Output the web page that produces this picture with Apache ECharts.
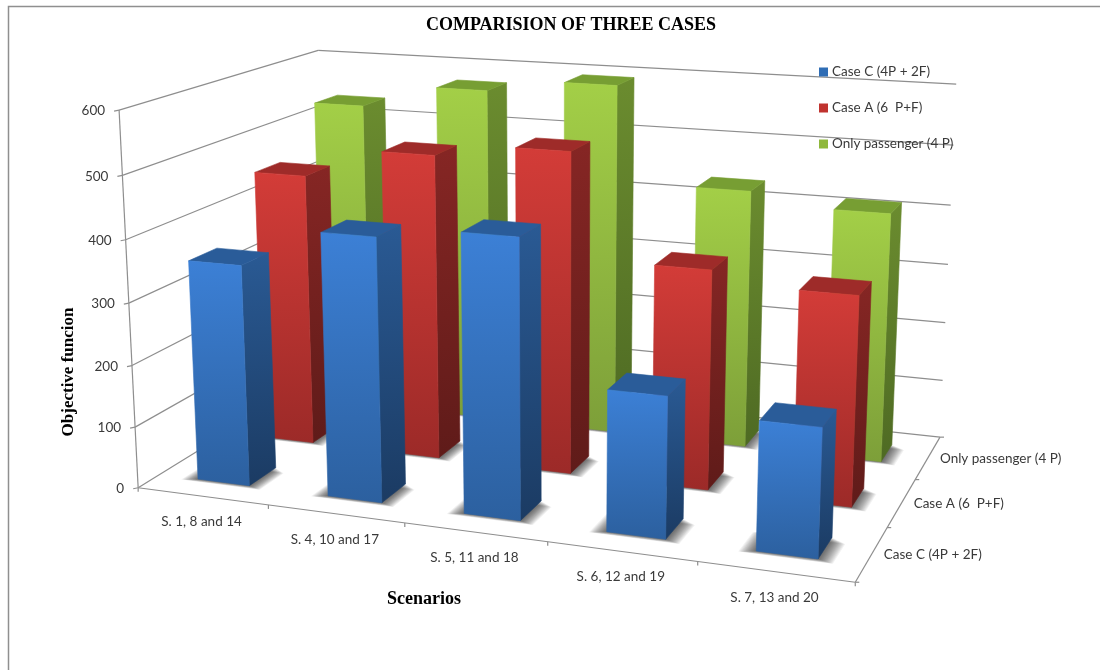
<!DOCTYPE html>
<html>
<head>
<meta charset="utf-8">
<title>Comparision of three cases</title>
<script src="https://cdn.jsdelivr.net/npm/echarts@6/dist/echarts.min.js"></script>
<style>html,body{margin:0;padding:0;background:#fff}#chart{width:1100px;height:670px}</style>
</head>
<body>
<div id="chart"></div>
<script>
// Chart content
const chartTitle = 'COMPARISION OF THREE CASES';
const valueAxisTitle = 'Objective funcion';
const categoryAxisTitle = 'Scenarios';
const categories = ['S. 1, 8 and 14', 'S. 4, 10 and 17', 'S. 5, 11 and 18', 'S. 6, 12 and 19', 'S. 7, 13 and 20'];
const valueTicks = [0, 100, 200, 300, 400, 500, 600];
const caseNames = ['Case C (4P + 2F)', 'Case A (6  P+F)', 'Only passenger (4 P)'];
const caseC = [357, 420, 438, 220, 198];
const caseA = [454, 503, 524, 355, 335];
const onlyPassenger = [533, 572, 593, 433, 413];

// Shading per case: top face, front gradient, side gradient
const palettes = [
  { legend: '#2f6db5', top: '#2a5c99', front: ['#3c80d6', '#2c609f'], side: ['#2a5a94', '#1b3b63'] },
  { legend: '#c0332f', top: '#9e2b29', front: ['#d33c38', '#9c2a28'], side: ['#862624', '#5f1b19'] },
  { legend: '#8fb83c', top: '#779e33', front: ['#a3cf47', '#7d9f39'], side: ['#6b8c2f', '#4e6a23'] }
];

// Camera calibration of the 3D box: [x units, hundreds, depth units] -> page pixels
const cameraAnchors = [
  [0,0,0,138,487],[1,0,0,269,506],[2,0,0,404,523],[3,0,0,547,543],[4,0,0,697,562],[5,0,0,855,581],
  [5,0,1,888,527],[5,0,2,917,479],[5,0,3,940,437],
  [0,1,0,135,427],[0,4,0,127,240],[0,5,0,123,175],[0,6,0,118,110],
  [5,6,3,957,84],[5,4,3,950,206],[5,2,3,944,323],[0,6,3,318,50]
];

function solveCamera(anchors) {
  const n = 11, A = Array.from({length: n}, () => new Array(n + 1).fill(0));
  const addRow = (r, b) => {
    for (let i = 0; i < n; i++) {
      for (let j = 0; j < n; j++) A[i][j] += r[i] * r[j];
      A[i][n] += r[i] * b;
    }
  };
  anchors.forEach(([X, Y, Z, sx, sy]) => {
    const u = sx / 1000, v = sy / 1000;
    addRow([X, Y, Z, 1, 0, 0, 0, 0, -u * X, -u * Y, -u * Z], u);
    addRow([0, 0, 0, 0, X, Y, Z, 1, -v * X, -v * Y, -v * Z], v);
  });
  for (let c = 0; c < n; c++) {
    let best = c;
    for (let r = c + 1; r < n; r++) if (Math.abs(A[r][c]) > Math.abs(A[best][c])) best = r;
    [A[c], A[best]] = [A[best], A[c]];
    for (let r = 0; r < n; r++) {
      if (r === c) continue;
      const f = A[r][c] / A[c][c];
      for (let k = c; k <= n; k++) A[r][k] -= f * A[c][k];
    }
  }
  return A.map((row, i) => row[n] / row[i]);
}
const cam = solveCamera(cameraAnchors);

// Project a point given in axis values; x and y go through the hidden cartesian axes first
function project(api, coordSys, xVal, yVal, depth) {
  const c = api.coord([xVal, yVal]);
  const X = (c[0] - coordSys.x) / coordSys.width * (categories.length);
  const Y = (coordSys.y + coordSys.height - c[1]) / coordSys.height * 6;
  const w = cam[8] * X + cam[9] * Y + cam[10] * depth + 1;
  return [
    1000 * (cam[0] * X + cam[1] * Y + cam[2] * depth + cam[3]) / w,
    1000 * (cam[4] * X + cam[5] * Y + cam[6] * depth + cam[7]) / w
  ];
}

const axisStroke = { stroke: '#8e8e8e', lineWidth: 1.2, fill: null };
const labelFont = '13.5px Lato, "Open Sans", sans-serif';
const labelColor = '#3a3a3a';
const line = (a, b) => ({ type: 'line', silent: true, shape: { x1: a[0], y1: a[1], x2: b[0], y2: b[1] }, style: axisStroke });
const text = (s, x, y, align, extra) => ({
  type: 'text', silent: true, x, y,
  style: Object.assign({ text: s, font: labelFont, fill: labelColor, align, verticalAlign: 'middle' }, extra || {})
});

// Walls, floor edges, ticks and axis labels of the 3D box
function renderFrame(params, api) {
  const cs = params.coordSys;
  const P = (x, y, z) => project(api, cs, x, y, z);
  const nCat = categories.length, nDepth = caseNames.length;
  const kids = [{
    type: 'rect', silent: true, shape: { x: 8.5, y: 6.5, width: 1200, height: 800 },
    style: { fill: null, stroke: '#8f8f8f', lineWidth: 1.5 }
  }];
  valueTicks.forEach(t => {
    const f = P(0, t, 0), b = P(0, t, nDepth), r = P(nCat, t, nDepth);
    kids.push(line(f, b), line(b, r), line([f[0] - 5, f[1] + 1], f));
    kids.push(text(String(t), f[0] - 14, f[1] + 1, 'right'));
  });
  const yMax = valueTicks[valueTicks.length - 1];
  kids.push(line(P(0, 0, 0), P(0, yMax, 0)));
  kids.push(line(P(0, 0, 0), P(nCat, 0, 0)));
  kids.push(line(P(nCat, 0, 0), P(nCat, 0, nDepth)));
  for (let i = 0; i <= nCat; i++) {
    const p = P(i, 0, 0);
    kids.push(line(p, [p[0], p[1] + 4]));
  }
  for (let j = 0; j <= nDepth; j++) {
    const p = P(nCat, 0, j);
    kids.push(line(p, [p[0] + 4, p[1]]));
  }
  categories.forEach((c, i) => {
    const p = P(i + 0.5, 0, 0);
    kids.push(text(c, p[0] - 1, p[1] + 25.5, 'center'));
  });
  caseNames.forEach((c, j) => {
    const p = P(nCat, 0, j + 0.5);
    kids.push(text(c, p[0] + 12, p[1] + 1, 'left'));
  });
  const serif = '"Liberation Serif", "Times New Roman", serif';
  kids.push(text(categoryAxisTitle, 424, 599, 'center', { font: 'bold 18px ' + serif, fill: '#000' }));
  kids.push({
    type: 'text', silent: true, x: 69, y: 372, rotation: Math.PI / 2,
    style: { text: valueAxisTitle, font: 'bold 17px ' + serif, fill: '#000', align: 'center', verticalAlign: 'middle' }
  });
  return { type: 'group', children: kids };
}

// One 3D column: soft footprint built from stacked translucent layers, then its faces
const barSpan = 0.4;
const shadowLayers = 14;
function renderBar(depthIndex) {
  const pal = palettes[depthIndex];
  const grad = cols => ({
    type: 'linear', x: 0, y: 0, x2: 0.05, y2: 1,
    colorStops: [{ offset: 0, color: cols[0] }, { offset: 1, color: cols[1] }]
  });
  return (params, api) => {
    const cs = params.coordSys;
    const cat = api.value(0), val = api.value(1);
    const x0 = cat + (1 - barSpan) / 2, x1 = x0 + barSpan;
    const z0 = depthIndex + (1 - barSpan) / 2, z1 = z0 + barSpan;
    const P = (x, y, z) => project(api, cs, x, y, z);
    const poly = (points, fill, seam) => ({
      type: 'polygon', silent: true, shape: { points },
      style: seam ? { fill, stroke: fill, lineWidth: 0.6 } : { fill }
    });
    const children = [];
    for (let k = shadowLayers; k >= 1; k--) {
      const dx = 0.0075 * k, front = 0.0035 * k, back = -0.006 * k;
      children.push(poly(
        [P(x0 - dx, 0, z0 - front), P(x1 + dx, 0, z0 - front), P(x1 + dx, 0, z1 + back), P(x0 - dx, 0, z1 + back)],
        'rgba(0,0,0,0.055)'
      ));
    }
    children.push(
      poly([P(x1, 0, z0), P(x1, 0, z1), P(x1, val, z1), P(x1, val, z0)], grad(pal.side), true),
      poly([P(x0, val, z0), P(x1, val, z0), P(x1, val, z1), P(x0, val, z1)], pal.top, true),
      poly([P(x0, 0, z0), P(x1, 0, z0), P(x1, val, z0), P(x0, val, z0)], grad(pal.front), true)
    );
    return { type: 'group', children };
  };
}

const barSeries = (values, depthIndex) => ({
  type: 'custom',
  name: caseNames[depthIndex],
  coordinateSystem: 'cartesian2d',
  clip: false,
  z: 5 - depthIndex,
  renderItem: renderBar(depthIndex),
  itemStyle: { color: palettes[depthIndex].legend },
  encode: { x: 0, y: 1 },
  data: values.map((v, i) => [i, v])
});

const chart = echarts.init(document.getElementById('chart'), null, { renderer: 'canvas' });
chart.setOption({
  animation: false,
  backgroundColor: '#fff',
  title: {
    text: chartTitle, left: 566, top: 11, textAlign: 'center',
    textStyle: { fontFamily: '"Liberation Serif", "Times New Roman", serif', fontWeight: 'bold', fontSize: 18, color: '#000' }
  },
  legend: {
    data: caseNames, orient: 'vertical', left: 814, top: 60, itemGap: 22,
    itemWidth: 9, itemHeight: 9, icon: 'rect',
    textStyle: { fontFamily: 'Lato, "Open Sans", sans-serif', fontSize: 13.5, color: labelColor, padding: [0, 0, 0, -1] },
    selectedMode: false
  },
  // The axes stay hidden: they provide the scales the projection reads from
  grid: { left: 100, right: 100, top: 100, bottom: 100 },
  xAxis: { type: 'value', min: 0, max: categories.length, show: false },
  yAxis: { type: 'value', min: 0, max: 600, show: false },
  series: [
    {
      type: 'custom', name: 'frame', coordinateSystem: 'cartesian2d', clip: false, z: 1,
      renderItem: renderFrame, data: [[0, 0]], encode: { x: 0, y: 1 }
    },
    barSeries(onlyPassenger, 2),
    barSeries(caseA, 1),
    barSeries(caseC, 0)
  ]
});
</script>
</body>
</html>
